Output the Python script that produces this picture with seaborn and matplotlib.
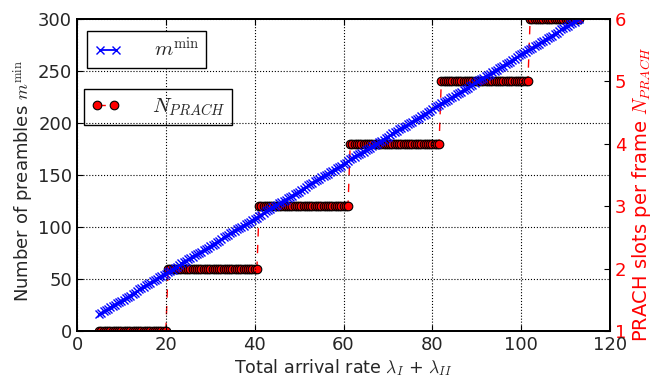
import matplotlib
matplotlib.use("Agg")
import matplotlib.pyplot as plt
import numpy as np
import pandas as pd
import seaborn as sns

# total arrival rate grid (step 0.5)
arrival_rate = np.arange(5, 113.5, 0.5)

# minimum number of preambles m^min
m_min = [
    16, 17, 19, 20, 21, 23, 24, 25, 27, 28, 29, 30, 32, 33, 34, 36, 37, 38, 40, 41,
    42, 44, 45, 46, 48, 49, 50, 52, 53, 54, 55, 57, 58, 59, 61, 62, 63, 65, 66, 67,
    69, 70, 71, 73, 74, 75, 76, 78, 79, 80, 82, 83, 84, 86, 87, 88, 90, 91, 92, 94,
    95, 96, 98, 99, 100, 101, 103, 104, 105, 107, 108, 109, 111, 112, 113, 115, 116, 117, 119, 120,
    121, 123, 124, 125, 126, 128, 129, 130, 132, 133, 134, 136, 137, 138, 140, 141, 142, 144, 145, 146,
    148, 149, 150, 151, 153, 154, 155, 157, 158, 159, 161, 162, 163, 165, 166, 167, 169, 170, 171, 172,
    174, 175, 176, 178, 179, 180, 182, 183, 184, 186, 187, 188, 190, 191, 192, 194, 195, 196, 197, 199,
    200, 201, 203, 204, 205, 207, 208, 209, 211, 212, 213, 215, 216, 217, 219, 220, 221, 222, 224, 225,
    226, 228, 229, 230, 232, 233, 234, 236, 237, 238, 240, 241, 242, 243, 245, 246, 247, 249, 250, 251,
    253, 254, 255, 257, 258, 259, 261, 262, 263, 265, 266, 267, 268, 270, 271, 272, 274, 275, 276, 278,
    279, 280, 282, 283, 284, 286, 287, 288, 290, 291, 292, 293, 295, 296, 297, 299, 300,
]

# PRACH slots per frame: level and last arrival rate at that level
n_levels = [1, 2, 3, 4, 5, 6]
level_last_rate = [20, 40.5, 61, 81.5, 101.5, 113]

idx = np.searchsorted(level_last_rate, arrival_rate, side="left")
n_prach = np.array(n_levels)[idx]

df = pd.DataFrame({"rate": arrival_rate, "m_min": m_min, "n_prach": n_prach})

sns.set_style("ticks")
plt.rcParams["mathtext.fontset"] = "cm"
plt.rcParams["font.family"] = ["DejaVu Sans"]
plt.rcParams["xtick.direction"] = "in"
plt.rcParams["ytick.direction"] = "in"

fig = plt.figure(figsize=(6.61, 3.77), dpi=100)
ax = fig.add_axes([0.1165, 0.122, 0.8065, 0.8276])
ax2 = ax.twinx()
# blue curve on top of the red steps
ax.set_zorder(ax2.get_zorder() + 1)
ax.patch.set_visible(False)

sns.lineplot(data=df, x="rate", y="n_prach", ax=ax2, color="red", linestyle="--",
             marker="o", markersize=6.2, markeredgecolor="black", markeredgewidth=0.8,
             linewidth=1.0, label=r"$N_{PRACH}$", legend=False)
ax2.lines[0].set_dashes([6, 6])
sns.lineplot(data=df, x="rate", y="m_min", ax=ax, color="blue", marker="x",
             markersize=6, markeredgecolor="blue", markeredgewidth=1.0, linewidth=1.3,
             label=r"$m^{\min}$", legend=False)

ax.set_xlim(0, 120)
ax.set_ylim(0, 300)
ax2.set_ylim(1, 6)
ax.set_xticks(range(0, 121, 20))
ax.set_yticks(range(0, 301, 50))
ax2.set_yticks(range(1, 7))

ax.grid(True, color="black", linestyle=":", linewidth=0.8)

ax.set_xlabel(r"Total arrival rate $\lambda_I$ + $\lambda_{II}$", fontsize=12.6, labelpad=2)
ax.set_ylabel(r"Number of preambles $m^{\min}$", fontsize=13)
ax2.set_ylabel(r"PRACH slots per frame $N_{PRACH}$", fontsize=14, color="red")
ax.yaxis.set_label_coords(-0.076, 0.48)
ax2.yaxis.set_label_coords(1.037, 0.44)

ax.tick_params(axis="both", labelsize=13, length=4, top=True, color="black")
ax.tick_params(axis="y", right=False)
ax2.tick_params(axis="y", labelsize=13, length=4, colors="red", direction="in")
ax2.tick_params(axis="y", color="black")
for a in (ax, ax2):
    for s in a.spines.values():
        s.set_color("black")
        s.set_linewidth(1.3)

leg1 = ax.legend(loc="upper left", bbox_to_anchor=(0.019, 0.962), fontsize=15,
                 fancybox=False, edgecolor="black", framealpha=1, numpoints=2,
                 handlelength=1.4, handletextpad=1.5, borderpad=0.3, borderaxespad=0)
leg1.get_frame().set_linewidth(1.0)
leg2 = ax2.legend(loc="upper left", bbox_to_anchor=(0.013, 0.776), fontsize=15,
                  fancybox=False, edgecolor="black", framealpha=1, numpoints=2,
                  handlelength=1.4, handletextpad=1.5, borderpad=0.35, borderaxespad=0)
leg2.get_frame().set_linewidth(1.0)

fig.savefig("out.png", dpi=100)
